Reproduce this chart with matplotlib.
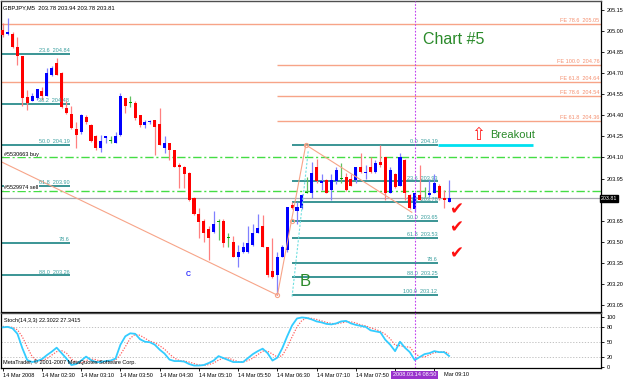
import matplotlib
matplotlib.use("Agg")
import matplotlib.pyplot as plt
import matplotlib.transforms as mtransforms
import numpy as np

plt.rcParams["font.family"] = ["Liberation Sans", "DejaVu Sans"]

# ----------------------------
# Data (GBPJPY M5)
# ----------------------------
opens = [205.01, 204.98, 204.98, 204.89, 204.82, 204.53, 204.50, 204.52, 204.57, 204.54,
         204.69, 204.77, 204.70, 204.45, 204.41, 204.30, 204.28, 204.39, 204.33, 204.25,
         204.17, 204.24, 204.22, 204.20, 204.26, 204.52, 204.49, 204.49, 204.40, 204.33,
         204.35, 204.37, 204.34, 204.17, 204.20, 204.15, 204.05, 204.03, 203.99, 203.81,
         203.70, 203.65, 203.59, 203.57, 203.64, 203.65, 203.53, 203.50, 203.39, 203.43,
         203.43, 203.48, 203.56, 203.61, 203.46, 203.29, 203.26, 203.39, 203.44, 203.76,
         203.72, 203.74, 203.85, 203.85, 204.03, 203.92, 203.94, 203.87, 203.93, 203.95,
         203.96, 203.95, 203.94, 204.03, 203.99, 204.03, 204.00, 204.07, 204.10, 203.85,
         203.98, 203.90, 204.08, 203.83, 203.73, 203.83, 203.83, 203.83, 203.85, 203.90,
         203.81, 203.78]
highs = [205.06, 205.09, 204.99, 204.96, 204.82, 204.58, 204.56, 204.59, 204.60, 204.74,
         204.75, 204.81, 204.71, 204.50, 204.47, 204.35, 204.41, 204.40, 204.34, 204.26,
         204.26, 204.25, 204.25, 204.28, 204.56, 204.52, 204.54, 204.50, 204.40, 204.37,
         204.37, 204.37, 204.45, 204.25, 204.20, 204.15, 204.06, 204.04, 204.00, 203.82,
         203.74, 203.66, 203.61, 203.72, 203.66, 203.66, 203.56, 203.54, 203.48, 203.50,
         203.61, 203.63, 203.70, 203.69, 203.46, 203.53, 203.43, 203.48, 203.75, 203.78,
         203.78, 203.84, 203.96, 204.07, 204.09, 203.98, 203.95, 203.98, 204.03, 204.06,
         203.99, 203.98, 204.03, 204.13, 204.05, 204.10, 204.08, 204.19, 204.10, 204.03,
         203.99, 204.13, 204.09, 203.84, 203.85, 204.05, 203.89, 203.94, 203.98, 203.91,
         203.87, 203.94]
lows = [204.96, 204.97, 204.88, 204.76, 204.47, 204.44, 204.50, 204.51, 204.51, 204.54,
        204.68, 204.69, 204.45, 204.41, 204.30, 204.17, 204.27, 204.34, 204.21, 204.15,
        204.14, 204.20, 204.20, 204.20, 204.25, 204.42, 204.46, 204.37, 204.32, 204.31,
        204.34, 204.12, 204.19, 204.13, 204.08, 204.03, 203.88, 203.88, 203.79, 203.69,
        203.53, 203.50, 203.37, 203.56, 203.51, 203.46, 203.46, 203.39, 203.32, 203.42,
        203.42, 203.47, 203.56, 203.46, 203.25, 203.24, 203.12, 203.39, 203.43, 203.73,
        203.63, 203.73, 203.85, 203.81, 203.92, 203.87, 203.85, 203.80, 203.91, 203.92,
        203.86, 203.90, 203.92, 203.99, 203.95, 203.99, 203.99, 204.03, 203.80, 203.85,
        203.88, 203.90, 203.80, 203.73, 203.71, 203.80, 203.82, 203.82, 203.85, 203.80,
        203.74, 203.78]
closes = [204.97, 204.99, 204.89, 204.82, 204.52, 204.49, 204.54, 204.59, 204.54, 204.70,
          204.74, 204.69, 204.46, 204.42, 204.31, 204.26, 204.40, 204.35, 204.22, 204.17,
          204.22, 204.25, 204.22, 204.25, 204.54, 204.47, 204.49, 204.38, 204.33, 204.35,
          204.36, 204.32, 204.19, 204.20, 204.15, 204.03, 204.03, 203.98, 203.80, 203.70,
          203.64, 203.56, 203.53, 203.63, 203.64, 203.49, 203.53, 203.39, 203.43, 203.46,
          203.49, 203.56, 203.60, 203.46, 203.26, 203.25, 203.39, 203.46, 203.75, 203.74,
          203.75, 203.83, 203.85, 203.99, 203.93, 203.93, 203.85, 203.94, 204.01, 203.95,
          203.87, 203.90, 204.03, 204.00, 204.00, 204.00, 204.06, 204.05, 203.85, 204.01,
          203.89, 204.10, 203.85, 203.74, 203.85, 203.80, 203.83, 203.85, 203.92, 203.81,
          203.80, 203.81]

stoch_main = [80, 81, 78, 67, 38, 14, 10, 12, 16, 24,
              31, 39, 28, 17, 4, 6, 13, 21, 14, 10,
              10, 12, 13, 17, 45, 62, 68, 67, 56, 51,
              50, 45, 35, 27, 15, 12, 12, 11, 6, 3,
              3, 4, 8, 13, 22, 18, 14, 10, 10, 10,
              18, 26, 32, 37, 28, 13, 19, 38, 62, 84,
              98, 100, 99, 96, 92, 90, 87, 86, 88, 92,
              93, 88, 85, 83, 81, 74, 72, 70, 55, 45,
              32, 51, 39, 30, 14, 20, 26, 28, 32, 30,
              30, 22.3]
stoch_signal = [82, 81, 80, 75, 61, 40, 21, 12, 13, 17,
                24, 31, 33, 28, 16, 9, 8, 13, 16, 15,
                11, 11, 12, 14, 25, 41, 58, 66, 64, 58,
                52, 49, 43, 36, 26, 18, 13, 12, 10, 7,
                4, 3, 5, 8, 14, 18, 18, 14, 11, 10,
                13, 18, 25, 32, 32, 26, 20, 23, 40, 61,
                81, 94, 99, 98, 96, 93, 90, 88, 87, 89,
                91, 91, 89, 85, 83, 79, 76, 72, 66, 57,
                44, 43, 41, 40, 28, 21, 20, 25, 29, 30,
                31, 27.3]

# the 08:30 label and the "14 " of 09:10 are hidden under the cursor box
time_label_bars = [0, 8, 16, 24, 32, 40, 48, 56, 64, 72, 80, 88]
time_labels = ["14 Mar 2008", "14 Mar 02:30", "14 Mar 03:10", "14 Mar 03:50",
               "14 Mar 04:30", "14 Mar 05:10", "14 Mar 05:50", "14 Mar 06:30",
               "14 Mar 07:10", "14 Mar 07:50", "", ""]
partial_time_label = "Mar 09:10"
price_ticks = [205.15, 205.00, 204.85, 204.70, 204.55, 204.40, 204.25,
               204.10, 203.95, 203.80, 203.65, 203.50, 203.35, 203.20, 203.05]
stoch_ticks = [100, 80, 50, 20, 0]

left_fib_levels = [23.6, 38.2, 50.0, 61.8, 78.6, 88.0]
left_fib_prices = [204.84, 204.48, 204.19, 203.90, 203.49, 203.26]
right_fib_levels = [0.0, 23.6, 38.2, 50.0, 61.8, 78.6, 88.0, 100.0]
right_fib_prices = [204.19, 203.93, 203.78, 203.65, 203.53, 203.35, 203.25, 203.12]

fe_names = ["FE 78.6", "FE 100.0", "FE 61.8", "FE 78.6", "FE 61.8"]
fe_prices = [205.05, 204.76, 204.64, 204.54, 204.36]
fe_full_width = [True, False, True, False, False]

order_names = ["#5530663 buy", "#5529974 sell"]
order_prices = [204.10, 203.86]

last_price = 203.81
cursor_bar = 84

# ----------------------------
# Figure layout
# ----------------------------
X_LEFT, X_RIGHT = -0.35, 121.98
SALMON = "#f7a488"
TEAL = "#2b8c8c"

fig = plt.figure(figsize=(6.25, 3.8), dpi=100, facecolor="white")
ax = fig.add_axes([1 / 625, 68 / 380, 600 / 625, 311 / 380])
ax2 = fig.add_axes([1 / 625, 12 / 380, 600 / 625, 55 / 380], sharex=ax)

ax.set_xlim(X_LEFT, X_RIGHT)
ax.set_ylim(203.00, 205.214)
ax2.set_ylim(-2, 109)

x = np.arange(len(opens))

# ----------------------------
# Candles
# ----------------------------
for i in x:
    o, h, l, c = opens[i], highs[i], lows[i], closes[i]
    if c > o:
        body, wick = "#0000ff", "#8080ff"
    elif c < o:
        body, wick = "#ff0000", "#ff8080"
    else:
        body, wick = "#00a000", "#60c060"
    ax.vlines(i, l, h, color=wick, lw=0.9, zorder=3)
    ax.bar(i, max(abs(c - o), 0.006), bottom=min(o, c), width=0.62,
           color=body, linewidth=0, zorder=4)

# ----------------------------
# Drawn objects
# ----------------------------
ax.axhline(last_price, color="#a8a8b2", lw=0.9, zorder=1)

for name, price in zip(order_names, order_prices):
    ax.axhline(price, color="#44dd44", lw=1.0, ls=(0, (6, 2, 1.5, 2)), zorder=1)
    ax.text(0.3, price + 0.006, name, fontsize=4, ha="left", va="bottom",
            color="black", zorder=6,
            bbox=dict(facecolor="white", edgecolor="none", pad=0.2))

for name, price, full in zip(fe_names, fe_prices, fe_full_width):
    start = X_LEFT if full else 55.9
    ax.hlines(price, start, X_RIGHT, color=SALMON, lw=1.0, zorder=1)
    ax.text(121.6, price + 0.006, f"{name}  {price:.2f}", fontsize=4,
            ha="right", va="bottom", color="#f59070", zorder=5)

ax.hlines(left_fib_prices, X_LEFT, 13.7, color=TEAL, lw=1.3, zorder=2)
for lvl, price in zip(left_fib_levels, left_fib_prices):
    label = f"{lvl:.1f}" if lvl == 78.6 else f"{lvl:.1f}  {price:.2f}"
    ax.text(13.6, price + 0.005, label, fontsize=4, ha="right", va="bottom",
            color="#3a9f9f", zorder=5)

ax.hlines(right_fib_prices, 59.0, 88.7, color=TEAL, lw=1.3, zorder=2)
for lvl, price in zip(right_fib_levels, right_fib_prices):
    label = f"{lvl:.1f}" if lvl == 78.6 else f"{lvl:.1f}  {price:.2f}"
    ax.text(88.6, price + 0.005, label, fontsize=4, ha="right", va="bottom",
            color="#3a9f9f", zorder=2.5)

# breakout level
ax.hlines(right_fib_prices[0], 88.7, 108.1, color="#00e0f0", lw=2.0, zorder=2)

# ABC lines
ax.plot([X_LEFT, 56], [204.07, 203.12], color=SALMON, lw=0.8, zorder=2)
ax.plot([56, 61.8], [203.12, 204.19], color=SALMON, lw=0.8, zorder=5)
ax.plot([61.8, 83.4], [204.19, 203.71], color=SALMON, lw=0.8, zorder=5)
ax.plot([56, 59.0, 61.8], [203.12, 203.65, 204.19], "o", mfc="none",
        mec=SALMON, ms=3, mew=0.8, zorder=5)
ax.plot([59.0, 62.3], [203.11, 204.15], color="#70e0e0", lw=0.8,
        ls=(0, (2, 1.5)), zorder=5)

for a in (ax, ax2):
    a.axvline(cursor_bar, color="#c040f0", lw=0.8, ls=(0, (1.5, 1.5)), zorder=6)

# ----------------------------
# Annotations
# ----------------------------
ax.text(0.004, 0.977, "GBPJPY,M5  203.78 203.94 203.78 203.81", fontsize=4.2,
        transform=ax.transAxes, ha="left", va="center", color="black")
ax.text(85.7, 204.94, "Chart #5", fontsize=11.5, color="#2a8a2a",
        ha="left", va="center")
ax.text(96.9, 204.26, "\u21e7", fontsize=12, color="#ff2020",
        ha="center", va="center", family=["DejaVu Sans"])
ax.text(99.4, 204.26, "Breakout", fontsize=8, color="#2a8a2a",
        ha="left", va="center")
for yc in (203.73, 203.60, 203.42):
    ax.text(92.5, yc, "\u2714", fontsize=12, color="#ff1010",
            ha="center", va="center", family=["DejaVu Sans"])
ax.text(37.8, 203.27, "C", fontsize=5, color="#3030ff", fontweight="bold",
        ha="center", va="center")
ax.text(61.6, 203.22, "B", fontsize=12, color="#2a8a2a",
        ha="center", va="center")

# ----------------------------
# Price axis
# ----------------------------
ax.yaxis.tick_right()
ax.set_yticks(price_ticks)
# the 203.80 label sits under the current price tag
ax.set_yticklabels(["" if p == 203.80 else f"{p:.2f}" for p in price_ticks])
ax.tick_params(axis="y", labelsize=4, length=2, pad=2, width=0.6)
ax.tick_params(axis="x", bottom=False, labelbottom=False)
ax.text(1.0, last_price, "203.81", fontsize=3.8, color="white",
        transform=mtransforms.blended_transform_factory(ax.transAxes, ax.transData),
        ha="left", va="center", zorder=7,
        bbox=dict(facecolor="black", edgecolor="black", pad=0.6))

# ----------------------------
# Stochastic panel
# ----------------------------
ax2.hlines([80, 50, 20], X_LEFT, X_RIGHT, color="#b8b8b8", lw=0.6,
           ls=(0, (1.5, 2)), zorder=1)
ax2.plot(x, stoch_signal, color="#ff6060", lw=0.9, ls=(0, (1, 1.2)), zorder=3)
ax2.plot(x, stoch_main, color="#33ccff", lw=1.3, zorder=4)
ax2.text(0.005, 0.86, "Stoch(14,3,3) 22.3022 27.3415", fontsize=4,
         transform=ax2.transAxes, ha="left", va="center")
ax2.text(0.004, 0.1, "MetaTrader, \u00a9 2001-2007 MetaQuotes Software Corp.",
         fontsize=4, transform=ax2.transAxes, ha="left", va="center", zorder=7)

ax2.yaxis.tick_right()
ax2.set_yticks(stoch_ticks)
ax2.set_yticklabels([str(v) for v in stoch_ticks])
ax2.tick_params(axis="y", labelsize=4, length=2, pad=2, width=0.6)

ax2.set_xticks(time_label_bars)
ax2.set_xticklabels(time_labels)
plt.setp(ax2.get_xticklabels(), ha="left")
ax2.tick_params(axis="x", labelsize=4, length=2, pad=1.5, width=0.6)

bottom_tf = mtransforms.blended_transform_factory(ax2.transData, ax2.transAxes)
ax2.text(89.9, -0.08, partial_time_label, fontsize=4, color="black",
         transform=bottom_tf, ha="left", va="top", clip_on=False)
ax2.text(cursor_bar, -0.08, "2008.03.14 08:50", fontsize=4, color="white",
         transform=bottom_tf, ha="center", va="top", zorder=10, clip_on=False,
         bbox=dict(facecolor="#9933cc", edgecolor="none", pad=1.2))

for a in (ax, ax2):
    for side in ("left", "right", "bottom"):
        a.spines[side].set_color("black")
        a.spines[side].set_linewidth(0.9)
    a.spines["top"].set_color("#505050")
    a.spines["top"].set_linewidth(1.0)
    a.set_facecolor("white")

fig.savefig("out.png", dpi=100, facecolor="white")
